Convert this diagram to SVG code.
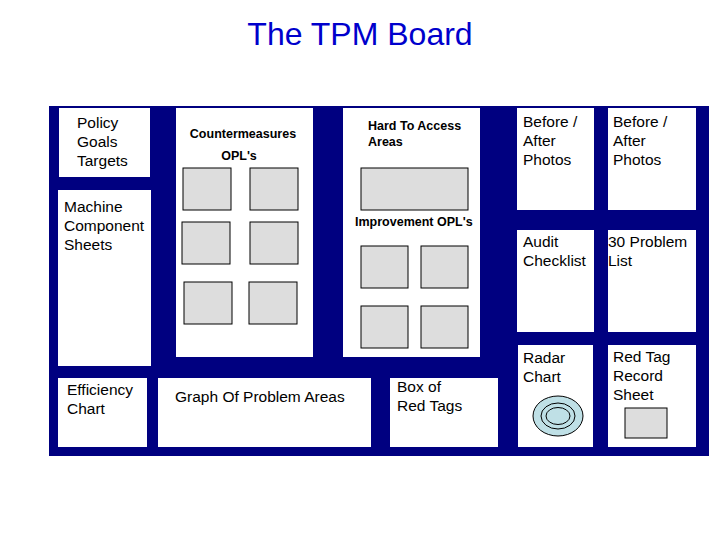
<svg xmlns="http://www.w3.org/2000/svg" width="720" height="540" viewBox="0 0 720 540">
<style>
.panel{fill:#ffffff;stroke:none}
.slot{fill:#dddddd;stroke:#000000;stroke-width:1}
.lbl{font-family:"Liberation Sans",Arial,sans-serif;font-size:15.5px;fill:#000000}
.bl{font-family:"Liberation Sans",Arial,sans-serif;font-size:12.5px;font-weight:bold;fill:#000000}
.ring{fill:#bfe0e6;stroke:#000000;stroke-width:1}
</style>
<rect width="720" height="540" fill="#ffffff"/>
<text x="360" y="45" text-anchor="middle" font-family="Liberation Sans, Arial, sans-serif" font-size="32" fill="#0000cc">The TPM Board</text>
<g id="board">
<rect x="49" y="106" width="660" height="350" fill="#000080"/>
</g>
<g id="policy">
<rect class="panel" x="59" y="108" width="91" height="69"/>
<text class="lbl" x="77" y="128">Policy</text>
<text class="lbl" x="77" y="147">Goals</text>
<text class="lbl" x="77" y="166">Targets</text>
</g>
<g id="machine">
<rect class="panel" x="58" y="190" width="93" height="176"/>
<text class="lbl" x="64" y="212">Machine</text>
<text class="lbl" x="64" y="231">Component</text>
<text class="lbl" x="64" y="250">Sheets</text>
</g>
<g id="efficiency">
<rect class="panel" x="58" y="378" width="89" height="69"/>
<text class="lbl" x="67" y="395">Efficiency</text>
<text class="lbl" x="67" y="414">Chart</text>
</g>
<g id="graph">
<rect class="panel" x="158" y="378" width="213" height="69"/>
<text class="lbl" x="175" y="402">Graph Of Problem Areas</text>
</g>
<g id="countermeasures">
<rect class="panel" x="176" y="108" width="137" height="249"/>
<text class="bl" x="243" y="138" text-anchor="middle">Countermeasures</text>
<text class="bl" x="239" y="160" text-anchor="middle">OPL's</text>
<rect class="slot" x="183" y="168" width="48" height="42"/>
<rect class="slot" x="250" y="168" width="48" height="42"/>
<rect class="slot" x="182" y="222" width="48" height="42"/>
<rect class="slot" x="250" y="222" width="48" height="42"/>
<rect class="slot" x="184" y="282" width="48" height="42"/>
<rect class="slot" x="249" y="282" width="48" height="42"/>
</g>
<g id="hard-to-access">
<rect class="panel" x="343" y="108" width="137" height="249"/>
<text class="bl" x="368" y="130">Hard To Access</text>
<text class="bl" x="368" y="146">Areas</text>
<rect class="slot" x="361" y="168" width="107" height="42"/>
<text class="bl" x="355" y="226">Improvement OPL's</text>
<rect class="slot" x="361" y="246" width="47" height="42"/>
<rect class="slot" x="421" y="246" width="47" height="42"/>
<rect class="slot" x="361" y="306" width="47" height="42"/>
<rect class="slot" x="421" y="306" width="47" height="42"/>
</g>
<g id="box-of-red-tags">
<rect class="panel" x="390" y="378" width="108" height="69"/>
<text class="lbl" x="397" y="392">Box of</text>
<text class="lbl" x="397" y="411">Red Tags</text>
</g>
<g id="before-after-1">
<rect class="panel" x="517" y="108" width="77" height="102"/>
<text class="lbl" x="523" y="127">Before /</text>
<text class="lbl" x="523" y="146">After</text>
<text class="lbl" x="523" y="165">Photos</text>
</g>
<g id="before-after-2">
<rect class="panel" x="608" y="108" width="88" height="102"/>
<text class="lbl" x="613" y="127">Before /</text>
<text class="lbl" x="613" y="146">After</text>
<text class="lbl" x="613" y="165">Photos</text>
</g>
<g id="audit-checklist">
<rect class="panel" x="517" y="230" width="77" height="102"/>
<text class="lbl" x="523" y="247">Audit</text>
<text class="lbl" x="523" y="266">Checklist</text>
</g>
<g id="problem-list">
<rect class="panel" x="608" y="230" width="88" height="102"/>
<text class="lbl" x="608" y="247">30 Problem</text>
<text class="lbl" x="608" y="266">List</text>
</g>
<g id="radar-chart">
<rect class="panel" x="518" y="345" width="75" height="102"/>
<text class="lbl" x="523" y="363">Radar</text>
<text class="lbl" x="523" y="382">Chart</text>
<ellipse class="ring" cx="558" cy="416" rx="25" ry="20"/>
<ellipse cx="558" cy="416" rx="17" ry="13" fill="none" stroke="#000000"/>
<ellipse cx="558" cy="416" rx="12" ry="8.5" fill="none" stroke="#000000"/>
</g>
<g id="red-tag-record">
<rect class="panel" x="608" y="345" width="88" height="102"/>
<text class="lbl" x="613" y="362">Red Tag</text>
<text class="lbl" x="613" y="381">Record</text>
<text class="lbl" x="613" y="400">Sheet</text>
<rect class="slot" x="625" y="408" width="42" height="30"/>
</g>
<g id="connectors"></g>
</svg>
